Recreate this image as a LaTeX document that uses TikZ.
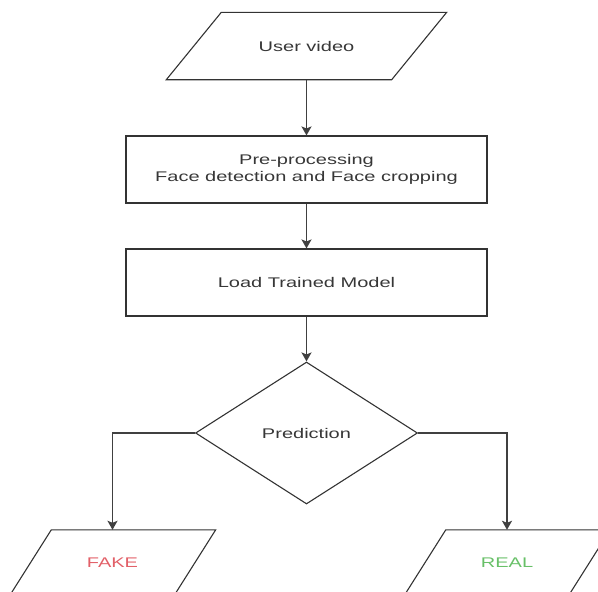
\documentclass[tikz,border=0pt]{standalone}
\usepackage{fontspec}
\setmainfont[FakeStretch=1.43]{Liberation Sans}
\usetikzlibrary{arrows.meta,shapes.geometric,positioning}

\definecolor{txtgray}{RGB}{55,55,55}
\definecolor{fakered}{RGB}{226,96,104}
\definecolor{realgreen}{RGB}{104,192,104}

% parallelogram round a node: name, half skew
\newcommand{\ioframe}[2]{%
  \draw[boxline] ([xshift=#2]#1.north west) -- ([xshift=#2]#1.north east)
    -- ([xshift=-#2]#1.south east) -- ([xshift=-#2]#1.south west) -- cycle;}

\begin{document}
\begin{tikzpicture}[x=1pt, y=-1pt, >={Stealth[length=9pt,width=10pt,inset=2pt]},
  every node/.style={font=\fontsize{14}{17}\selectfont, text=txtgray},
  boxline/.style={draw=black!80, line width=1.1pt},
  procbox/.style={boxline, rectangle, align=center, minimum width=361pt, minimum height=67pt, inner sep=0pt},
  iobox/.style={rectangle, minimum height=67pt, inner sep=0pt},
  decision/.style={boxline, diamond, minimum width=222pt, minimum height=142pt, inner sep=0pt},
  flow/.style={->, draw=black!75, line width=1.5pt}]
  \clip (0,0) rectangle (598,592);

  % Input
  \node[iobox, minimum width=225pt] (video) at (306.5,46) {User video};
  \ioframe{video}{27.5}

  % Processing steps
  \node[procbox] (prep) at (306.5,169.5) {Pre-processing\\Face detection and Face cropping};
  \node[procbox] (load) at (306.5,282.5) {Load Trained Model};

  % Decision
  \node[decision] (pred) at (306.5,433) {Prediction};

  % Outputs
  \node[iobox, minimum width=164pt, minimum height=66pt, text=fakered] (fake) at (112.5,563) {FAKE};
  \ioframe{fake}{21}
  \node[iobox, minimum width=164pt, minimum height=66pt, text=realgreen] (real) at (507,563) {REAL};
  \ioframe{real}{21}

  % Flow arrows
  \draw[flow] (video.south) -- (prep.north);
  \draw[flow] (prep.south) -- (load.north);
  \draw[flow] (load.south) -- (pred.north);
  \draw[flow] (pred.west) -| (fake.north);
  \draw[flow] (pred.east) -| (real.north);
\end{tikzpicture}
\end{document}
